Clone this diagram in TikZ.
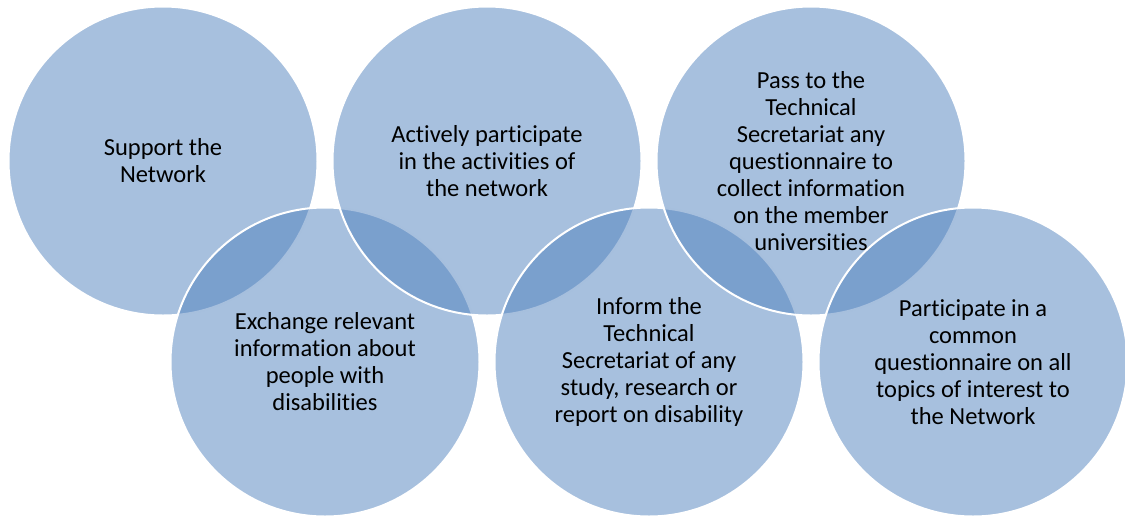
\documentclass[tikz,border=0pt]{standalone}
\usepackage{fontspec}
\setmainfont{Carlito}[Ligatures=CommonOff]
\usetikzlibrary{positioning}
\definecolor{vennblue}{HTML}{4F81BD}
\tikzset{
  bubble/.style={circle, minimum size=309pt, inner sep=0pt, outer sep=0pt,
                 draw=white, line width=2pt, fill=vennblue, fill opacity=0.5,
                 text opacity=1, text=black, align=center,
                 font=\fontsize{24.5}{27}\selectfont}
}

\begin{document}
\begin{tikzpicture}[x=1pt, y=-1pt, node distance=15pt]
\useasboundingbox (0,0) rectangle (1125,515);
% circles drawn zig-zag so that each lower one lies over its upper neighbours
\node (support) [bubble] at (163,161) {Support the\\Network};
\node (exchange) [bubble] at (325,362) {Exchange relevant\\information about\\people with\\disabilities};
\node (actively) [bubble, right=of support] {Actively participate\\in the activities of\\the network};
\node (inform) [bubble, right=of exchange] {Inform the\\Technical\\Secretariat of any\\study, research or\\report on disability};
\node (pass) [bubble, right=of actively] {Pass to the\\Technical\\Secretariat any\\questionnaire to\\collect information\\on the member\\universities};
\node (common) [bubble, right=of inform] {Participate in a\\common\\questionnaire on all\\topics of interest to\\the Network};
\end{tikzpicture}
\end{document}
